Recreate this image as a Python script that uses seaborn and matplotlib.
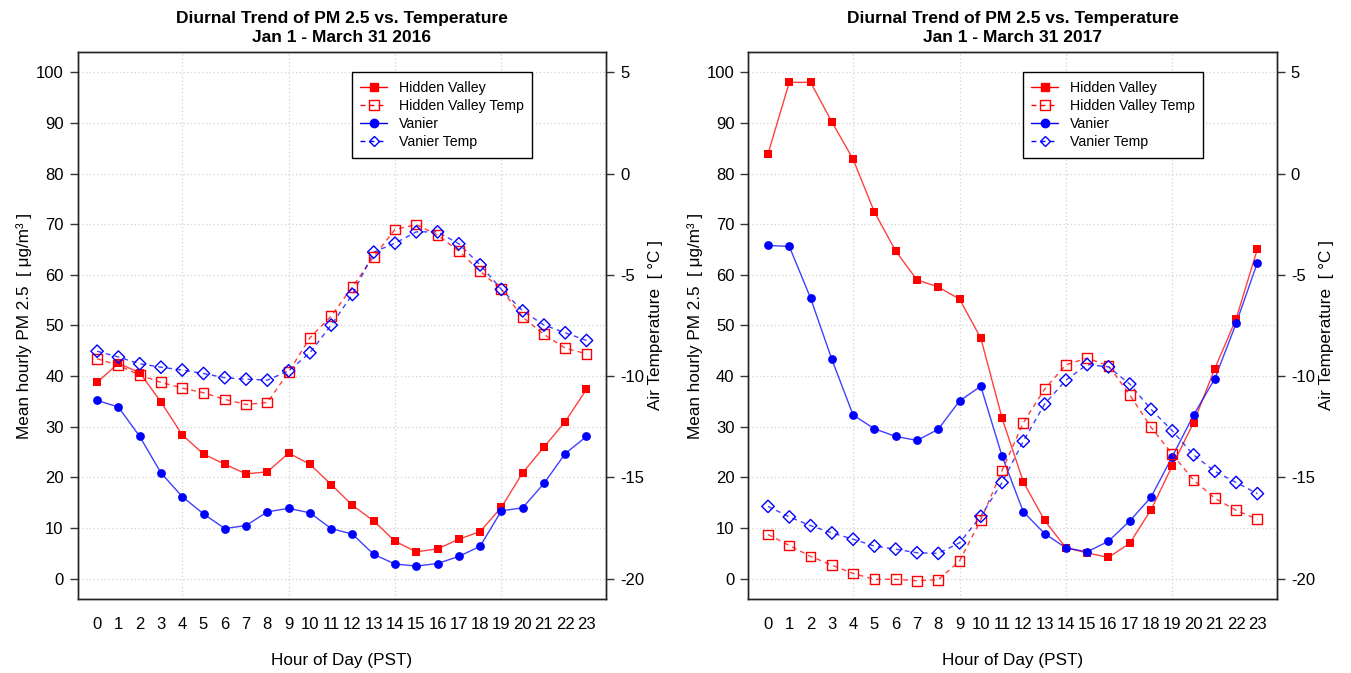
import matplotlib
matplotlib.use("Agg")
import matplotlib.pyplot as plt
from matplotlib.lines import Line2D
import seaborn as sns

HOURS = list(range(24))
HOUR_LABELS = [str(h) for h in HOURS]

# Jan 1 - March 31 2016
HV_PM_2016 = [38.8, 42.5, 40.7, 34.9, 28.4, 24.6, 22.6, 20.7, 21.1, 24.8, 22.6, 18.6,
              14.5, 11.4, 7.4, 5.3, 5.9, 7.8, 9.3, 14.1, 20.9, 26.0, 31.0, 37.4]
VA_PM_2016 = [35.2, 33.9, 28.1, 20.9, 16.2, 12.8, 9.9, 10.5, 13.2, 13.9, 13.0, 9.9,
              8.8, 4.8, 2.9, 2.5, 3.0, 4.4, 6.4, 13.4, 14.0, 18.8, 24.7, 28.1]
HV_T_2016 = [-9.14, -9.47, -9.95, -10.31, -10.59, -10.82, -11.15, -11.40, -11.30, -9.80, -8.11, -7.04,
             -5.59, -4.11, -2.76, -2.52, -3.04, -3.83, -4.82, -5.72, -7.09, -7.94, -8.62, -8.90]
VA_T_2016 = [-8.77, -9.06, -9.39, -9.56, -9.70, -9.87, -10.08, -10.15, -10.20, -9.74, -8.85, -7.48,
             -5.97, -3.88, -3.44, -2.88, -2.88, -3.47, -4.51, -5.72, -6.78, -7.48, -7.86, -8.24]

# Jan 1 - March 31 2017
HV_PM_2017 = [83.9, 98.0, 98.0, 90.2, 82.8, 72.4, 64.7, 59.0, 57.6, 55.2, 47.5, 31.7,
              19.1, 11.5, 6.1, 5.1, 4.2, 7.0, 13.6, 22.3, 30.8, 41.5, 51.3, 65.1]
VA_PM_2017 = [65.8, 65.6, 55.4, 43.3, 32.3, 29.6, 28.1, 27.3, 29.5, 35.1, 38.0, 24.2,
              13.2, 8.9, 6.1, 5.3, 7.4, 11.4, 16.1, 24.1, 32.3, 39.5, 50.4, 62.4]
HV_T_2017 = [-17.82, -18.36, -18.90, -19.33, -19.74, -20.03, -20.03, -20.10, -20.05, -19.13, -17.10, -14.66,
             -12.30, -10.64, -9.44, -9.11, -9.49, -10.92, -12.52, -13.85, -15.13, -16.03, -16.62, -17.07]
VA_T_2017 = [-16.43, -16.95, -17.38, -17.74, -18.05, -18.39, -18.54, -18.72, -18.75, -18.23, -16.92, -15.25,
             -13.21, -11.38, -10.20, -9.43, -9.54, -10.39, -11.64, -12.70, -13.89, -14.70, -15.25, -15.80]

PM_TICKS = list(range(0, 101, 10))
T_TICKS = list(range(-20, 6, 5))
GRID_HOURS = [4, 9, 14, 19]

RED = "#FF0000"
BLUE = "#0000FF"
DASH = (3.5, 3)

sns.set_theme(style="white")
plt.rcParams["font.family"] = ["Liberation Sans", "DejaVu Sans"]
plt.rcParams["text.color"] = "black"
plt.rcParams["axes.labelcolor"] = "black"
plt.rcParams["xtick.color"] = "black"
plt.rcParams["ytick.color"] = "black"
plt.rcParams["axes.unicode_minus"] = False


def series(ax, y, color, marker, filled, dashed, ms):
    sns.lineplot(x=HOURS, y=y, ax=ax, color=color, linewidth=1.0, alpha=0.75,
                 dashes=False, linestyle=(0, DASH) if dashed else "-", legend=False)
    if filled:
        sns.scatterplot(x=HOURS, y=y, ax=ax, color=color, marker=marker, s=ms,
                        linewidth=0, legend=False, zorder=3)
    else:
        sns.scatterplot(x=HOURS, y=y, ax=ax, marker=marker, s=ms, facecolors="none",
                        edgecolor=color, linewidth=1.0, legend=False, zorder=3)


def panel(ax, year, hv_pm, hv_t, va_pm, va_t):
    ax2 = ax.twinx()

    for h in GRID_HOURS:
        ax.axvline(h, color="#d3d3d3", linestyle=(0, (1, 2)), linewidth=0.9, zorder=0)
    for v in PM_TICKS:
        ax.axhline(v, color="#d3d3d3", linestyle=(0, (1, 2)), linewidth=0.9, zorder=0)

    series(ax, hv_pm, RED, "s", True, False, 38)
    series(ax, va_pm, BLUE, "o", True, False, 40)
    series(ax2, hv_t, RED, "s", False, True, 50)
    series(ax2, va_t, BLUE, "D", False, True, 40)

    ax.set_xlim(-0.92, 23.92)
    ax.set_ylim(-4, 104)
    ax2.set_ylim(-21, 6)
    ax.set_xticks(HOURS)
    ax.set_xticklabels(HOUR_LABELS)
    ax.set_yticks(PM_TICKS)
    ax2.set_yticks(T_TICKS)

    for a in (ax, ax2):
        a.tick_params(axis="both", direction="out", length=6, width=1, color="#333333",
                      labelsize=12, pad=4)
        for sp in a.spines.values():
            sp.set_color("#222222")
            sp.set_linewidth(1.0)
    ax.tick_params(axis="x", pad=7)

    ax.set_xlabel("Hour of Day (PST)", fontsize=12.3, labelpad=15)
    ax.set_ylabel("Mean hourly PM 2.5  [ μg/m³ ]", fontsize=12.3, labelpad=3)
    ax2.set_ylabel("Air Temperature  [ °C ]", fontsize=12.3, labelpad=3)
    ax.set_title(f"Diurnal Trend of PM 2.5 vs. Temperature\nJan 1 - March 31 {year}",
                 fontsize=12.5, fontweight="bold", pad=7, linespacing=1.35)

    handles = [
        Line2D([], [], color=RED, lw=1, marker="s", ms=6, mec=RED),
        Line2D([], [], color=RED, lw=1, ls=(0, DASH), marker="s", ms=6.5, mfc="none", mec=RED),
        Line2D([], [], color=BLUE, lw=1, marker="o", ms=6, mec=BLUE),
        Line2D([], [], color=BLUE, lw=1, ls=(0, DASH), marker="D", ms=5.5, mfc="none", mec=BLUE),
    ]
    labels = ["Hidden Valley", "Hidden Valley Temp", "Vanier", "Vanier Temp"]
    leg = ax2.legend(handles, labels, loc="upper left", bbox_to_anchor=(0.519, 0.963),
                     borderaxespad=0, fontsize=10.2, frameon=True, fancybox=False,
                     edgecolor="black", framealpha=1, handlelength=1.9, handletextpad=0.8,
                     labelspacing=0.3, borderpad=0.6)
    leg.get_frame().set_linewidth(1.0)


fig = plt.figure(figsize=(13.51, 6.73), dpi=100)
ax_l = fig.add_axes([0.0574, 0.110, 0.3912, 0.8128])
ax_r = fig.add_axes([0.5540, 0.110, 0.3912, 0.8128])

panel(ax_l, 2016, HV_PM_2016, HV_T_2016, VA_PM_2016, VA_T_2016)
panel(ax_r, 2017, HV_PM_2017, HV_T_2017, VA_PM_2017, VA_T_2017)

fig.savefig("out.png", dpi=100, facecolor="white")
